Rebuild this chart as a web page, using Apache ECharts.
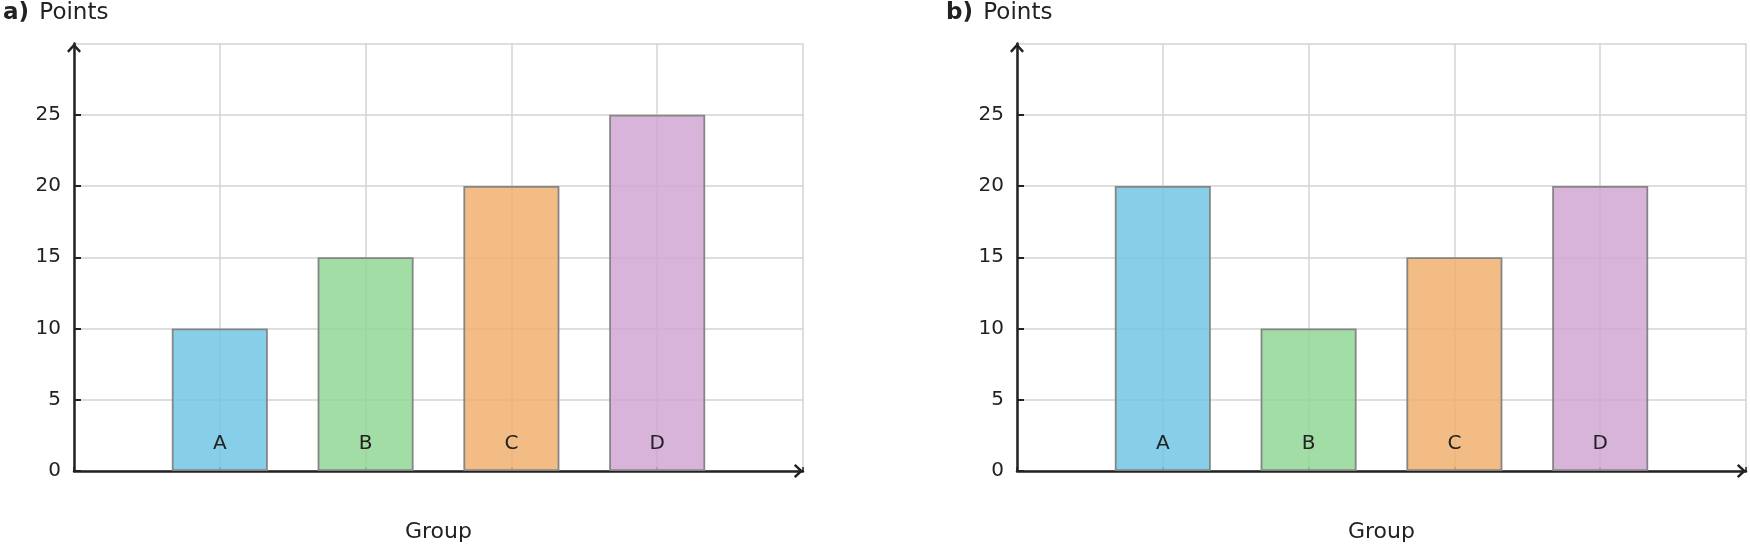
<!DOCTYPE html>
<html>
<head>
<meta charset="utf-8">
<script src="https://cdn.jsdelivr.net/npm/echarts@6/dist/echarts.min.js"></script>
<style>
html,body{margin:0;padding:0;background:#fff;}
#chart{width:1750px;height:548px;}
</style>
</head>
<body>
<div id="chart"></div>
<script>
const categories = ['A', 'B', 'C', 'D'];
const pointsA = [10, 15, 20, 25];
const pointsB = [20, 10, 15, 20];
const panelLabels = ['a)', 'b)'];
const yTitle = 'Points';
const xTitle = 'Group';
const barColors = ['rgba(114,199,228,0.85)', 'rgba(144,215,148,0.85)', 'rgba(240,176,110,0.85)', 'rgba(209,167,212,0.85)'];

const FONT = 'DejaVu Sans';
const DARK = '#222222';
const GRIDC = '#d3d3d3';
const arrowPath = 'path://M6,0 L12,6.5 L10.5,8 L6,3.2 L1.5,8 L0,6.5 Z';

const grids = [
  { left: 74, top: 43.5, width: 729, height: 427.5 },
  { left: 1017, top: 43.5, width: 729, height: 427.5 }
];

function xAxisFor(i) {
  return {
    type: 'value', gridIndex: i, min: 0, max: categories.length + 1, interval: 1,
    name: xTitle, nameLocation: 'middle', nameGap: 50,
    nameTextStyle: { fontSize: 22, color: DARK, fontFamily: FONT },
    axisLine: { show: true, onZero: true, lineStyle: { color: DARK, width: 2.5 },
      symbol: ['none', arrowPath], symbolSize: [14, 10], symbolOffset: [0, -4.5] },
    axisTick: { show: true, inside: true, length: 4, lineStyle: { color: DARK, width: 1.5 } },
    axisLabel: { show: false },
    splitLine: { show: true, lineStyle: { color: GRIDC, width: 1.5 } }
  };
}
function yAxisFor(i) {
  return {
    type: 'value', gridIndex: i, min: 0, max: 30, interval: 5,
    axisLine: { show: true, lineStyle: { color: DARK, width: 2.5 },
      symbol: ['none', arrowPath], symbolSize: [14, 10], symbolOffset: [0, -4.5] },
    axisTick: { show: true, inside: true, length: 7, lineStyle: { color: DARK, width: 2 } },
    axisLabel: { show: true, showMaxLabel: false, margin: 13, fontSize: 20, color: DARK, fontFamily: FONT },
    splitLine: { show: true, lineStyle: { color: GRIDC, width: 1.5 } }
  };
}
function seriesFor(i, values) {
  return {
    type: 'bar', xAxisIndex: i, yAxisIndex: i, barWidth: 96,
    data: values.map((v, k) => ({ name: categories[k], value: [k + 1, v],
      itemStyle: { color: barColors[k] } })),
    itemStyle: { borderColor: '#858585', borderWidth: 1.8 },
    label: { show: true, position: 'insideBottom', distance: 17, formatter: '{b}',
      fontSize: 20, color: DARK, fontFamily: FONT }
  };
}

const chart = echarts.init(document.getElementById('chart'), null, { renderer: 'canvas' });
chart.setOption({
  animation: false,
  backgroundColor: '#ffffff',
  textStyle: { fontFamily: FONT },
  title: panelLabels.map((p, i) => ({
    text: '{b|' + p + '} {n|' + yTitle + '}',
    left: i === 0 ? 3 : 946, top: 2, padding: 0,
    textStyle: { fontWeight: 'normal', fontSize: 23, rich: {
      b: { fontSize: 23, fontWeight: 'bold', color: DARK, fontFamily: FONT, padding: [0, 3, 0, 0] },
      n: { fontSize: 23, fontWeight: 'normal', color: DARK, fontFamily: FONT }
    } }
  })),
  grid: grids,
  xAxis: [xAxisFor(0), xAxisFor(1)],
  yAxis: [yAxisFor(0), yAxisFor(1)],
  series: [seriesFor(0, pointsA), seriesFor(1, pointsB)]
});
</script>
</body>
</html>
